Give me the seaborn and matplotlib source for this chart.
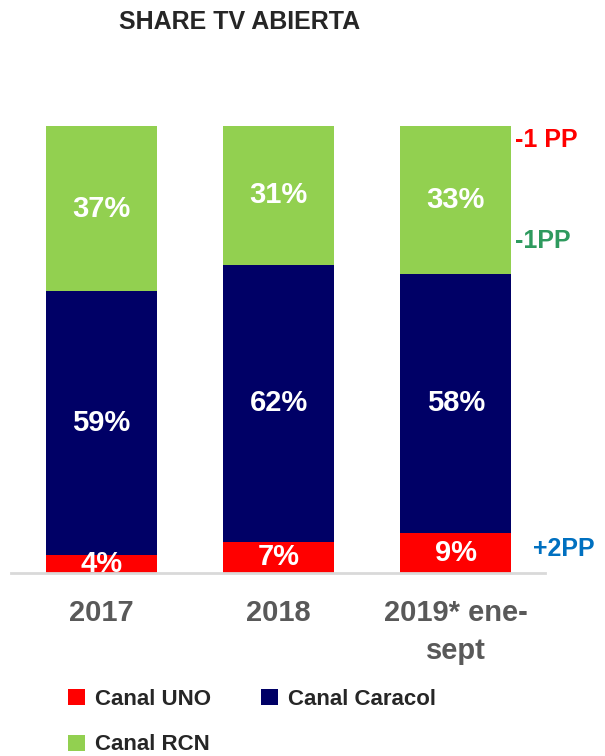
import matplotlib
matplotlib.use("Agg")
import matplotlib.pyplot as plt
from matplotlib.patches import Patch
import seaborn as sns
import pandas as pd
import numpy as np

# -----------------------------
# Data
# -----------------------------
years = ["2017", "2018", "2019* ene-\nsept"]
canal_uno = [4, 7, 9]
canal_caracol = [59, 62, 58]
canal_rcn = [37, 31, 33]
series_names = ["Canal UNO", "Canal Caracol", "Canal RCN"]
series_colors = ["#FF0000", "#000066", "#92D050"]
changes = ["-1 PP", "-1PP", "+2PP"]
change_colors = ["#FF0000", "#2E9A5E", "#0070C0"]

df = pd.DataFrame({"year": years, "uno": canal_uno,
                   "caracol": canal_caracol, "rcn": canal_rcn})
df["cum_uno"] = df["uno"]
df["cum_caracol"] = df["uno"] + df["caracol"]
df["cum_rcn"] = df["cum_caracol"] + df["rcn"]

# -----------------------------
# Plot
# -----------------------------
sns.set_style("white")
plt.rcParams["font.family"] = ["Liberation Sans", "DejaVu Sans"]

fig = plt.figure(figsize=(6.05, 7.56), dpi=100)
ax = fig.add_axes([11 / 605, 1 - 573 / 756, 534 / 605, 447 / 756])

# stacked bars: draw the cumulative totals from back to front
for col, color in zip(["cum_rcn", "cum_caracol", "cum_uno"], series_colors[::-1]):
    sns.barplot(data=df, x="year", y=col, color=color, width=0.627,
                saturation=1, linewidth=0, ax=ax)

ax.set_xlim(-0.511, 2.503)
ax.set_ylim(0, 100)

# segment labels
for i in range(len(years)):
    bottoms = [0, canal_uno[i], canal_uno[i] + canal_caracol[i]]
    vals = [canal_uno[i], canal_caracol[i], canal_rcn[i]]
    for b, v in zip(bottoms, vals):
        ax.text(i, b + v / 2, f"{v}%", ha="center", va="center",
                color="white", fontsize=21, fontweight="bold", clip_on=True)

# change annotations on the right
ax.text(2.336, 96.9, changes[0], color=change_colors[0], fontsize=18,
        fontweight="bold", va="center", ha="left", clip_on=False)
ax.text(2.336, 74.3, changes[1], color=change_colors[1], fontsize=18,
        fontweight="bold", va="center", ha="left", clip_on=False)
ax.text(2.438, 5.4, changes[2], color=change_colors[2], fontsize=18,
        fontweight="bold", va="center", ha="left", clip_on=False)

# axes styling
sns.despine(ax=ax, left=True)
ax.spines["bottom"].set_color("#D9D9D9")
ax.spines["bottom"].set_linewidth(2)
ax.set_yticks([])
ax.set_xlabel("")
ax.set_ylabel("")
ax.tick_params(axis="x", length=0, pad=19)
for lbl in ax.get_xticklabels():
    lbl.set_fontsize(21)
    lbl.set_fontweight("bold")
    lbl.set_color("#595959")
    lbl.set_linespacing(1.45)
    lbl.set_verticalalignment("top")

# title
fig.text(240 / 605, 1 - 22 / 756, "SHARE TV ABIERTA", ha="center", va="center",
         fontsize=18, fontweight="bold", color="#262626")

# legend (ncol=2 fills column-wise, so reorder for row order UNO, Caracol / RCN)
order = [0, 2, 1]
handles = [Patch(facecolor=series_colors[k], edgecolor="none") for k in order]
labels = [series_names[k] for k in order]
fig.legend(handles, labels, loc="upper left",
           bbox_to_anchor=(48 / 605, 1 - 669 / 756), ncol=2, frameon=False,
           handlelength=0.75, handleheight=0.75, handletextpad=0.45,
           columnspacing=2.27, labelspacing=1.1,
           prop={"weight": "bold", "size": 16},
           labelcolor="#262626")

fig.savefig("out.png", dpi=100)
plt.close(fig)
